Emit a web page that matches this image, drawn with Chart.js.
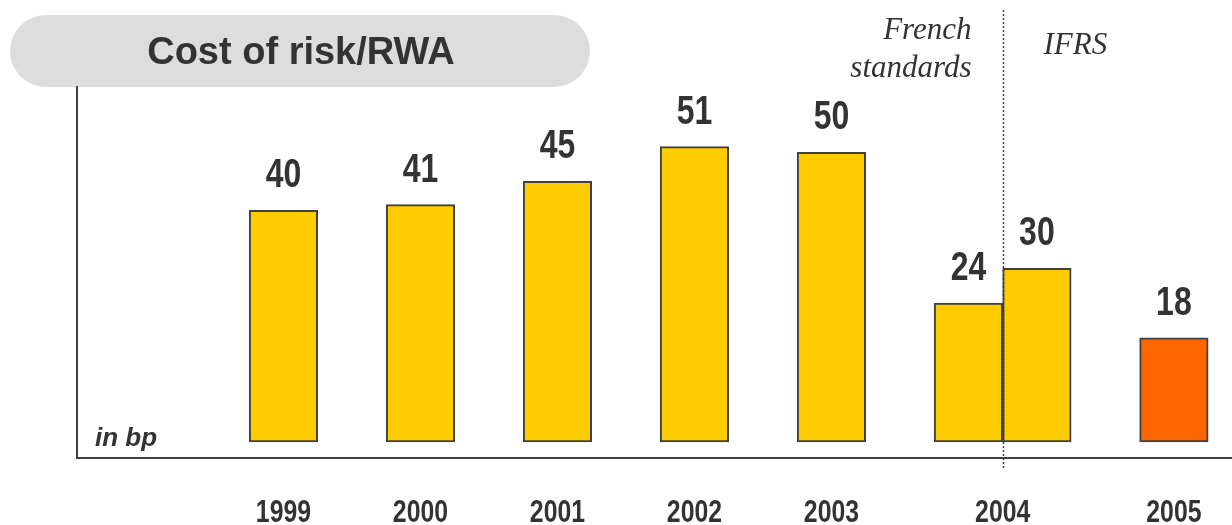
<!DOCTYPE html>
<html><head><meta charset="utf-8">
<script src="https://cdn.jsdelivr.net/npm/chart.js@4/dist/chart.umd.min.js"></script>
<style>html,body{margin:0;padding:0;background:#fff;}#wrap{width:1232px;height:525px;position:relative}</style>
</head><body><div id="wrap"><canvas id="c" width="1232" height="525"></canvas></div>
<script>
// ---- data ----
const years = ['1999', '2000', '2001', '2002', '2003', '2004', '2005'];
const frenchStandards = [40, 41, 45, 51, 50, 24, null];
const ifrs = [null, null, null, null, null, 30, 18];
const seriesNames = ['French standards', 'IFRS'];
const chartTitle = 'Cost of risk/RWA';
const unitLabel = 'in bp';
const switchYear = '2004';

// ---- styles ----
const TEXT = '#333333';
const YELLOW = '#FFCC00';
const ORANGE = '#FF6600';
const EDGE = '#404040';
const NARROW = 0.8; // horizontal squeeze to imitate a narrow bold face

const toPoints = arr => arr.map((v, i) => ({ x: i, y: v }));
// tick position: centre of the bars actually present for each year
const tickPos = years.map((y, i) => {
  const f = frenchStandards[i] != null, s = ifrs[i] != null;
  return i + (f && s ? 0 : f ? -0.25 : 0.25);
});

function narrowText(ctx, text, x, y, sx) {
  ctx.save();
  ctx.translate(x, y);
  ctx.scale(sx, 1);
  ctx.fillText(text, 0, 0);
  ctx.restore();
}

const overlay = {
  id: 'overlay',
  beforeDraw(chart) {
    const ctx = chart.ctx;
    ctx.save();
    ctx.fillStyle = '#DDDDDD';
    ctx.beginPath();
    ctx.roundRect(10, 15, 580, 72, 36);
    ctx.fill();
    ctx.fillStyle = TEXT;
    ctx.font = 'bold 38px "Liberation Sans", Arial, sans-serif';
    ctx.textAlign = 'center';
    ctx.textBaseline = 'alphabetic';
    ctx.fillText(chartTitle, 301, 64);
    ctx.restore();
  },
  afterDatasetsDraw(chart) {
    const ctx = chart.ctx;
    const xs = chart.scales.x;
    const lineX = Math.round(xs.getPixelForValue(years.indexOf(switchYear))) + 0.5;
    ctx.save();
    // divider
    ctx.strokeStyle = '#444444';
    ctx.lineWidth = 1.5;
    ctx.setLineDash([2, 2]);
    ctx.beginPath();
    ctx.moveTo(lineX, 10);
    ctx.lineTo(lineX, 468);
    ctx.stroke();
    ctx.setLineDash([]);
    // regime labels
    ctx.fillStyle = TEXT;
    ctx.font = 'italic 31px "Liberation Serif", "Times New Roman", serif';
    ctx.textBaseline = 'alphabetic';
    ctx.textAlign = 'right';
    const fr = seriesNames[0].split(' ');
    ctx.fillText(fr[0], lineX - 32, 39);
    ctx.fillText(fr[1], lineX - 32, 77);
    ctx.textAlign = 'left';
    ctx.fillText(seriesNames[1], lineX + 40, 54);
    // unit
    ctx.font = 'bold italic 26px "Liberation Sans", Arial, sans-serif';
    ctx.fillText(unitLabel, 95, 446);
    // value labels
    ctx.font = 'bold 40px "Liberation Sans", Arial, sans-serif';
    ctx.textAlign = 'center';
    chart.data.datasets.forEach((ds, di) => {
      chart.getDatasetMeta(di).data.forEach((el, i) => {
        const v = ds.data[i].y;
        if (v == null) return;
        narrowText(ctx, String(v), el.x, el.y - 23, NARROW);
      });
    });
    // category labels, placed at the x axis tick positions
    ctx.font = 'bold 31px "Liberation Sans", Arial, sans-serif';
    xs.ticks.forEach((t, i) => {
      narrowText(ctx, t.label, xs.getPixelForTick(i), 522, NARROW);
    });
    ctx.restore();
  }
};

new Chart(document.getElementById('c'), {
  type: 'bar',
  data: {
    datasets: [
      { label: seriesNames[0], data: toPoints(frenchStandards), backgroundColor: YELLOW,
        borderColor: EDGE, borderWidth: 2, borderSkipped: false },
      { label: seriesNames[1], data: toPoints(ifrs),
        backgroundColor: ctx => ctx.dataIndex === years.length - 1 ? ORANGE : YELLOW,
        borderColor: EDGE, borderWidth: 2, borderSkipped: false }
    ]
  },
  options: {
    responsive: false,
    animation: false,
    events: [],
    categoryPercentage: 1,
    barPercentage: 1,
    layout: { padding: { top: 87, left: 0, right: 0, bottom: 0 } },
    plugins: { legend: { display: false }, tooltip: { enabled: false }, title: { display: false } },
    scales: {
      x: {
        type: 'linear',
        offset: false,
        min: -1.757,
        max: 6.674,
        grid: { display: false, drawTicks: false, offset: false },
        border: { display: true, color: EDGE, width: 2 },
        afterBuildTicks: axis => { axis.ticks = tickPos.map(v => ({ value: v })); },
        afterFit: axis => { axis.height = 67; axis.paddingLeft = 0; axis.paddingRight = 0; },
        ticks: {
          autoSkip: false, maxRotation: 0, padding: 36, color: 'rgba(0,0,0,0)',
          font: { family: '"Liberation Sans", Arial, sans-serif', weight: 'bold', size: 31 },
          callback: (v, i) => years[i]
        }
      },
      y: {
        min: -2.76,
        max: 61.3,
        grid: { display: false, drawTicks: false },
        border: { display: true, color: EDGE, width: 2 },
        ticks: { display: false },
        afterFit: axis => { axis.width = 77; axis.paddingTop = 0; axis.paddingBottom = 0; }
      }
    }
  },
  plugins: [overlay]
});
</script></body></html>
